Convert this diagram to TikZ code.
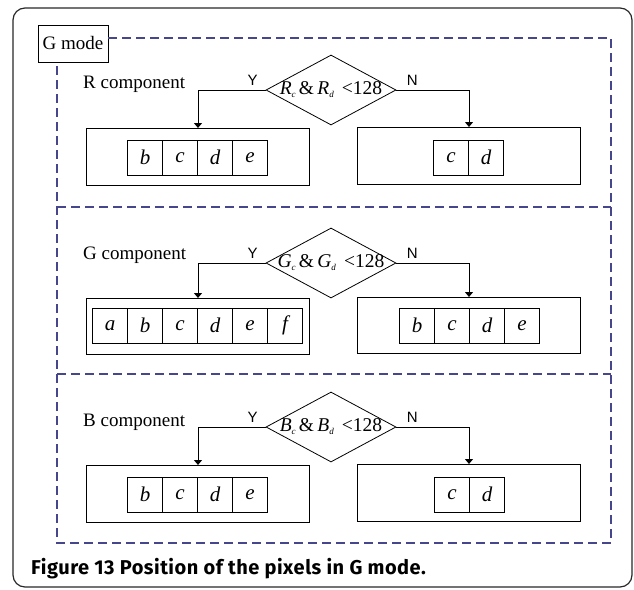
\documentclass[tikz,border=0pt]{standalone}
\usepackage{fontspec}
\setmainfont{Liberation Serif}
\newfontfamily\ynfont{Liberation Sans}
\newfontfamily\capfont{Fira Sans}[LetterSpace=2.5]
\usetikzlibrary{shapes.geometric,arrows.meta}
\definecolor{framegray}{RGB}{40,40,40}
\definecolor{dashblue}{RGB}{70,70,140}
% condition text: italic letters with small lowered subscripts
\newcommand{\cond}[1]{\textit{#1}\raisebox{-3pt}{\fontsize{9}{9}\selectfont\textit{c}}\,\&\,\textit{#1}\raisebox{-3pt}{\fontsize{9}{9}\selectfont\textit{d}}\, <128}
\begin{document}
\begin{tikzpicture}[x=1pt,y=-1pt,
  outerframe/.style={draw=framegray,line width=1.2pt,rounded corners=12pt},
  modebox/.style={draw,line width=0.9pt,inner sep=0pt,minimum width=70pt,minimum height=37pt,font=\fontsize{19}{19}\selectfont},
  dashframe/.style={draw=dashblue,line width=1.4pt,dash pattern=on 9pt off 5pt},
  outbox/.style={draw,line width=1pt,inner sep=0pt,minimum width=223pt},
  cellbox/.style={draw,line width=0.9pt,inner sep=0pt,minimum size=35pt,font=\fontsize{21}{21}\selectfont\itshape},
  test/.style={draw,diamond,line width=0.8pt,inner sep=0pt,minimum width=130pt,minimum height=70pt},
  testtext/.style={font=\fontsize{19.5}{19.5}\selectfont},
  complabel/.style={anchor=base west,inner sep=0pt,font=\fontsize{19}{19}\selectfont},
  ynlabel/.style={inner sep=0pt,font=\ynfont\fontsize{15}{15}\selectfont},
  arrowline/.style={draw,line width=1pt,-{Triangle[width=8pt,length=5pt]}}
]
\useasboundingbox (0,0) rectangle (634,589);

% outer frame and caption
\path[outerframe] (13,8) rectangle (632,587);
\node[anchor=base west,inner sep=0pt,font=\capfont\bfseries\fontsize{20}{20}\selectfont] (caption) at (31,574) {Figure 13 Position of the pixels in G mode.};

% mode box and dashed frame with section dividers
\node[modebox] (mode) at (73,43.5) {G mode};
\coordinate (ftl) at (57,38);
\coordinate (ftr) at (611,38);
\coordinate (fbr) at (611,543);
\coordinate (fbl) at (57,543);
\path[dashframe] (mode.east |- ftl) -- (ftr) -- (fbr) -- (fbl) -- (mode.south -| fbl);
\path[dashframe] (57,207) -- (611,207);
\path[dashframe] (57,374) -- (611,374);

% ---------- R component ----------
\node[complabel] (rlab) at (83,88) {R component};
\node[test,label={[testtext]center:\cond{R}}] (rt) at (331,90) {};
\node[outbox,minimum height=57pt] (ry) at (198,157) {};
\node[outbox,minimum height=57pt] (rn) at (469,156) {};
\foreach \l [count=\i] in {b,c,d,e}
  \node[cellbox] (ry\i) at (127.5+35*\i-17.5,157.5) {\l};
\foreach \l [count=\i] in {c,d}
  \node[cellbox] (rn\i) at (433.5+35*\i-17.5,157.5) {\l};
\path[arrowline] (rt.west) -| (ry.north);
\path[arrowline] (rt.east) -| (rn.north);
\node[ynlabel] (rY) at ([xshift=-13pt,yshift=10pt]rt.west) {Y};
\node[ynlabel] (rN) at ([xshift=16pt,yshift=10pt]rt.east) {N};

% ---------- G component ----------
\node[complabel] (glab) at (83,259) {G component};
\node[test,label={[testtext]center:\cond{G}}] (gt) at (331,263) {};
\node[outbox,minimum height=56pt] (gy) at (198,326.5) {};
\node[outbox,minimum height=56pt] (gn) at (469,325.5) {};
\foreach \l [count=\i] in {a,b,c,d,e,f}
  \node[cellbox] (gy\i) at (92.5+35*\i-17.5,325.5) {\l};
\foreach \l [count=\i] in {b,c,d,e}
  \node[cellbox] (gn\i) at (399.5+35*\i-17.5,325.5) {\l};
\path[arrowline] (gt.west) -| (gy.north);
\path[arrowline] (gt.east) -| (gn.north);
\node[ynlabel] (gY) at ([xshift=-13pt,yshift=10pt]gt.west) {Y};
\node[ynlabel] (gN) at ([xshift=16pt,yshift=10pt]gt.east) {N};

% ---------- B component ----------
\node[complabel] (blab) at (83,426) {B component};
\node[test,label={[testtext]center:\cond{B}}] (bt) at (331,427) {};
\node[outbox,minimum height=57pt] (by) at (198,494) {};
\node[outbox,minimum height=57pt] (bn) at (469,493) {};
\foreach \l [count=\i] in {b,c,d,e}
  \node[cellbox] (by\i) at (127.5+35*\i-17.5,494.5) {\l};
\foreach \l [count=\i] in {c,d}
  \node[cellbox] (bn\i) at (434.5+35*\i-17.5,494.5) {\l};
\path[arrowline] (bt.west) -| (by.north);
\path[arrowline] (bt.east) -| (bn.north);
\node[ynlabel] (bY) at ([xshift=-13pt,yshift=10pt]bt.west) {Y};
\node[ynlabel] (bN) at ([xshift=16pt,yshift=10pt]bt.east) {N};
\end{tikzpicture}
\end{document}
